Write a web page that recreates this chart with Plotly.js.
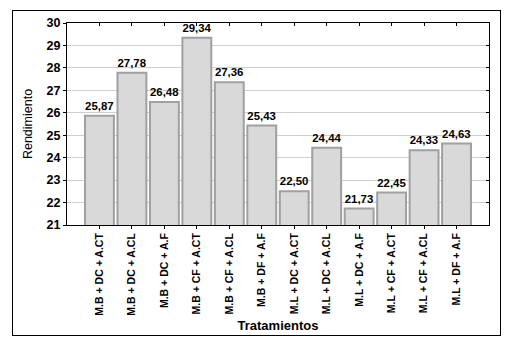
<!DOCTYPE html>
<html>
<head>
<meta charset="utf-8">
<script src="https://cdn.plot.ly/plotly-3.0.1.min.js"></script>
<style>
  html, body { margin: 0; padding: 0; background: #fff; }
  #wrap { position: relative; width: 516px; height: 346px; }
  #frame { position: absolute; left: 12px; top: 10px; width: 487px; height: 324px; border: 1.5px solid #000; pointer-events: none; z-index: 5; }
  #chart { position: absolute; left: 0; top: 0; width: 516px; height: 346px; }
</style>
</head>
<body>
<div id="wrap">
  <div id="chart"></div>
  <div id="frame"></div>
</div>
<script>
const categories = [
  "M.B + DC + A.CT", "M.B + DC + A.CL", "M.B + DC + A.F",
  "M.B + CF + A.CT", "M.B + CF + A.CL", "M.B + DF + A.F",
  "M.L + DC + A.CT", "M.L + DC + A.CL", "M.L + DC + A.F",
  "M.L + CF + A.CT", "M.L + CF + A.CL", "M.L + DF + A.F"
];
const rendimiento = [25.87, 27.78, 26.48, 29.34, 27.36, 25.43, 22.50, 24.44, 21.73, 22.45, 24.33, 24.63];
const yTicks = [21, 22, 23, 24, 25, 26, 27, 28, 29, 30];

const font = "Liberation Sans, Arial, sans-serif";

const bars = {
  type: "bar",
  x: categories,
  y: rendimiento,
  marker: { color: "#d9d9d9", line: { color: "#a0a0a0", width: 2 } },
  texttemplate: "%{y:.2f}",
  textposition: "outside",
  textfont: { family: font, size: 12, color: "#000", weight: "bold" },
  cliponaxis: false,
  hoverinfo: "skip"
};
const ghost = {
  type: "scatter",
  mode: "markers",
  x: categories,
  y: rendimiento,
  xaxis: "x2",
  yaxis: "y2",
  marker: { opacity: 0 },
  hoverinfo: "skip",
  showlegend: false
};

const layout = {
  width: 516,
  height: 346,
  margin: { l: 67, r: 27, t: 23, b: 121 },
  paper_bgcolor: "#fff",
  plot_bgcolor: "#fff",
  separators: ",.",
  showlegend: false,
  bargap: 0.11,
  font: { family: font, color: "#000" },
  xaxis: {
    type: "category",
    range: [-1, 12],
    tickangle: -90,
    ticks: "outside",
    ticklen: 3,
    tickcolor: "#000",
    showline: true,
    linecolor: "#000",
    linewidth: 1,
    showgrid: false,
    tickfont: { family: font, size: 10.5, weight: "bold" },
    title: { text: "Tratamientos", font: { family: font, size: 13, weight: "bold" }, standoff: 6 }
  },
  yaxis: {
    range: [21, 30],
    tickvals: yTicks,
    ticks: "outside",
    ticklen: 3,
    tickcolor: "#000",
    showline: true,
    linecolor: "#000",
    linewidth: 1,
    showgrid: true,
    gridcolor: "#cfcfcf",
    gridwidth: 1,
    zeroline: false,
    tickfont: { family: font, size: 12.5, weight: "bold" },
    title: { text: "Rendimiento", font: { family: font, size: 12.5 }, standoff: 11 }
  },
  xaxis2: {
    type: "category",
    overlaying: "x",
    side: "top",
    range: [-1, 12],
    ticks: "inside",
    ticklen: 3,
    tickcolor: "#000",
    showticklabels: false,
    showline: true,
    linecolor: "#000",
    linewidth: 1,
    showgrid: false
  },
  yaxis2: {
    overlaying: "y",
    side: "right",
    range: [21, 30],
    tickvals: yTicks,
    ticks: "inside",
    ticklen: 3,
    tickcolor: "#000",
    showticklabels: false,
    showline: true,
    linecolor: "#000",
    linewidth: 1,
    showgrid: false,
    zeroline: false
  }
};

Plotly.newPlot("chart", [bars, ghost], layout, { staticPlot: true, displayModeBar: false });
</script>
</body>
</html>
